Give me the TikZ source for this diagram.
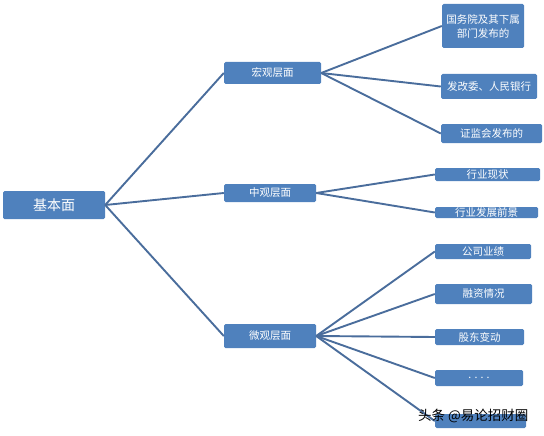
\documentclass[tikz,border=0pt]{standalone}
\usepackage{fontspec}
\setmainfont{Noto Sans CJK SC}

\definecolor{boxblue}{HTML}{4F81BD}
\definecolor{linkblue}{HTML}{4A6D9C}

\tikzset{
  box/.style={fill=boxblue,text=white,inner sep=0pt,rounded corners=1.5pt,font=\fontsize{10.5}{12}\selectfont,align=center},
  link/.style={linkblue,line width=1.9pt}
}

\begin{document}
\begin{tikzpicture}[x=1pt,y=-1pt]
        \useasboundingbox (0,0) rectangle (544,436);
        % left and middle column
        \node[box,minimum width=102pt,minimum height=28pt,font=\fontsize{14}{16}\selectfont] (base) at (54,205) {基本面};
        \node[box,minimum width=97pt,minimum height=22pt] (macro) at (272.5,73) {宏观层面};
        \node[box,minimum width=92pt,minimum height=18pt] (meso) at (270,193) {中观层面};
        \node[box,minimum width=92pt,minimum height=24pt] (micro) at (270,336) {微观层面};
        % right column
        \node[box,minimum width=82pt,minimum height=44pt,font=\fontsize{10.5}{14}\selectfont] (gov) at (483,26) {国务院及其下属\\部门发布的};
        \node[box,minimum width=96pt,minimum height=25pt] (ndrc) at (489,86.5) {发改委、人民银行};
        \node[box,minimum width=101pt,minimum height=19pt] (csrc) at (491.5,133.5) {证监会发布的};
        \node[box,minimum width=105pt,minimum height=13pt] (ind) at (487.5,174.5) {行业现状};
        \node[box,minimum width=103pt,minimum height=11pt] (pros) at (486.5,212.5) {行业发展前景};
        \node[box,minimum width=96pt,minimum height=15pt] (perf) at (483,251.5) {公司业绩};
        \node[box,minimum width=97pt,minimum height=20pt] (fin) at (483.5,294) {融资情况};
        \node[box,minimum width=89pt,minimum height=16pt] (share) at (479.5,337) {股东变动};
        \node[box,minimum width=88pt,minimum height=16pt] (dots) at (479,378) {. . . .};
        \node[box,minimum width=91pt,minimum height=14pt] (last) at (480.5,421) {};
        % connectors
        \draw[link] (base.east) -- (macro.west);
        \draw[link] (base.east) -- (meso.west);
        \draw[link] (base.east) -- (micro.west);
        \draw[link] (macro.east) -- (gov.west);
        \draw[link] (macro.east) -- (ndrc.west);
        \draw[link] (macro.east) -- (csrc.west);
        \draw[link] (meso.east) -- (ind.west);
        \draw[link] (meso.east) -- (pros.west);
        \draw[link] (micro.east) -- (perf.west);
        \draw[link] (micro.east) -- (fin.west);
        \draw[link] (micro.east) -- (share.west);
        \draw[link] (micro.east) -- (dots.west);
        \draw[link] (micro.east) -- (last.west);
        % watermark
        \node[font=\fontsize{13.5}{15}\selectfont,anchor=west,inner sep=0pt] (mark) at (418,416) {头条 @易论招财圈};
      \end{tikzpicture}
\end{document}
